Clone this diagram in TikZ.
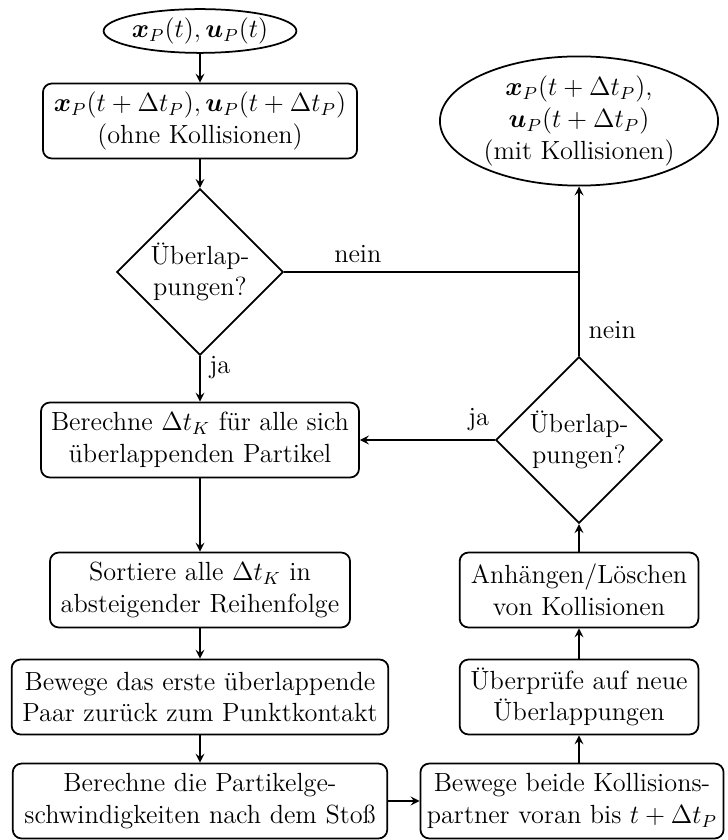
\documentclass[tikz,border=0pt,12pt]{standalone}
\usepackage{amsmath}
\usepackage{amssymb}
\usetikzlibrary{shapes,arrows}
\tikzstyle{box}=[draw,thick,rounded corners=4pt,align=center,minimum height=34.2pt,inner sep=2pt]
\tikzstyle{dec}=[draw,thick,diamond,align=center,inner sep=0pt,minimum width=76pt,minimum height=76pt]
\tikzstyle{term}=[draw,thick,ellipse,align=center,inner sep=0pt]
\tikzstyle{conn}=[draw,thick,-stealth]

\begin{document}
\begin{tikzpicture}[x=0.4566pt,y=-0.4566pt]
\useasboundingbox (0,0) rectangle (727,840);
\node[term,minimum width=86.3pt,minimum height=20pt] (s) at (200,31) {$\boldsymbol{x}_P(t),\boldsymbol{u}_P(t)$};
\node[box,minimum width=143.4pt] (a) at (200,121) {$\boldsymbol{x}_P(t+\Delta t_P),\boldsymbol{u}_P(t+\Delta t_P)$\\(ohne Kollisionen)};
\node[dec] (d1) at (200,272) {\"Uberlap-\\pungen?};
\node[term,minimum width=127pt,minimum height=59pt] (e) at (579,121) {$\boldsymbol{x}_P(t+\Delta t_P)$,\\$\boldsymbol{u}_P(t+\Delta t_P)$\\(mit Kollisionen)};
\node[box,minimum width=145.2pt] (b) at (200,440) {Berechne $\Delta t_K$ f\"ur alle sich\\\"uberlappenden Partikel};
\node[dec] (d2) at (579,440) {\"Uberlap-\\pungen?};
\node[box,minimum width=137pt] (c) at (200,590) {Sortiere alle $\Delta t_K$ in\\absteigender Reihenfolge};
\node[box,minimum width=172pt] (d) at (200,697) {Bewege das erste \"uberlappende\\Paar zur\"uck zum Punktkontakt};
\node[box,minimum width=171pt] (f) at (200,801) {Berechne die Partikelge-\\schwindigkeiten nach dem Sto\ss};
\node[box,minimum width=138.4pt] (g) at (572,801) {Bewege beide Kollisions-\\partner voran bis $t+\Delta t_P$};
\node[box,minimum width=109pt] (h) at (579,697) {\"Uberpr\"ufe auf neue\\\"Uberlappungen};
\node[box,minimum width=109pt] (i) at (579,590) {Anh\"angen/L\"oschen\\von Kollisionen};
\coordinate (j) at (579,272);
\draw[conn] (s) -- (a);
\draw[conn] (a) -- (d1);
\draw[conn] (d1) -- node[pos=0.25,right] {ja} (b);
\draw[thick] (d1) -- node[pos=0.25,above] {nein} (j);
\draw[conn] (d2) -- node[pos=0.15,right] {nein} (e);
\draw[conn] (d2) -- node[pos=0.12,above] {ja} (b);
\draw[conn] (b) -- (c);
\draw[conn] (c) -- (d);
\draw[conn] (d) -- (f);
\draw[conn] (f) -- (g);
\draw[conn] (h |- g.north) -- (h);
\draw[conn] (h) -- (i);
\draw[conn] (i) -- (d2);
\end{tikzpicture}
\end{document}
